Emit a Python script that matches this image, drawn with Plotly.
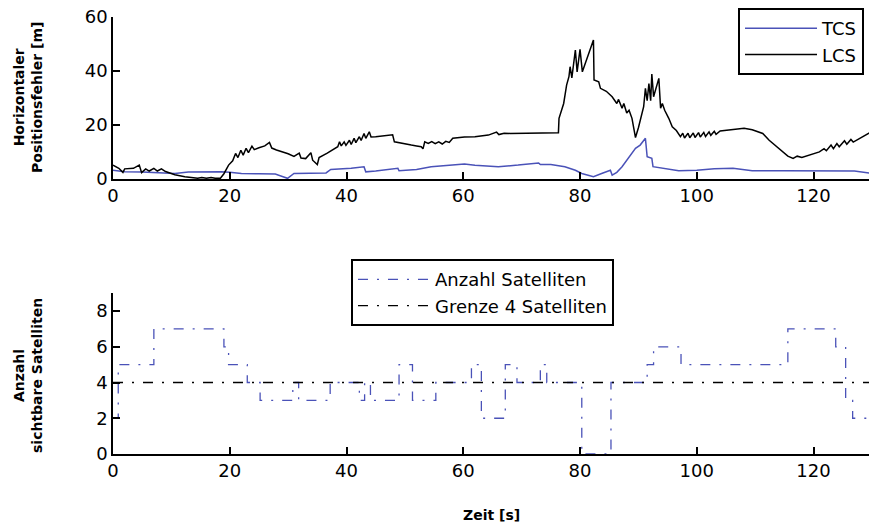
import plotly.graph_objects as go

# ---------- data ----------
lcs_t = [0, 1.0, 1.7, 2.0, 3.5, 4.5, 4.9, 5.6, 6.2, 7.0, 7.6, 8.3, 9.0, 10.6, 12.3, 13.5, 14.5, 15.2,
         16.0, 16.8, 17.5, 18.4, 19.0, 19.8, 20.5, 21.0, 21.4, 21.9, 22.3, 22.8, 23.2, 23.8, 24.2, 25.0,
         26.0, 26.8, 27.2, 28.0, 30.0, 31.0, 31.9, 32.2, 33.0, 33.9, 34.2, 35.0, 35.3, 36.7, 37.8, 38.5,
         38.8, 39.1, 39.6, 39.9, 40.5, 40.8, 41.3, 41.6, 42.2, 42.5, 43.0, 43.3, 43.9, 44.2, 45.0, 46.0,
         47.0, 47.9, 48.2, 49.0, 51.1, 52.0, 52.8, 53.1, 53.4, 54.0, 54.6, 55.2, 55.8, 56.4, 57.0, 57.6,
         58.2, 60.2, 62.0, 64.3, 65.7, 66.1, 67.0, 68.0, 70.0, 72.0, 74.0, 76.3, 76.4, 77.2, 77.7, 78.1,
         78.3, 78.6, 79.2, 79.5, 80.0, 80.4, 82.3, 82.4, 83.2, 83.5, 84.5, 85.5, 86.3, 86.6, 87.2, 87.5,
         88.0, 88.4, 88.9, 89.5, 90.0, 90.9, 91.2, 91.5, 91.8, 92.1, 92.3, 92.6, 93.5, 93.8, 94.1, 94.5,
         95.2, 95.8, 96.5, 97.2, 97.6, 97.9, 98.5, 98.8, 99.4, 99.7, 100.3, 100.6, 101.2, 101.5, 102.1,
         102.4, 103.0, 103.3, 104.0, 105.5, 108.1, 109.5, 111.3, 112.4, 114.1, 115.6, 116.5, 117.2, 118.0,
         119.3, 121.0, 121.8, 122.2, 123.0, 123.4, 124.0, 124.4, 125.3, 125.7, 126.4, 126.8, 129.9]
lcs_v = [5.2, 4.0, 2.5, 3.8, 4.0, 5.2, 2.4, 3.8, 3.0, 4.0, 3.0, 3.8, 2.8, 1.6, 0.9, 0.6, 0.3, 0.6,
         0.3, 0.6, 0.3, 0.3, 2.0, 5.2, 6.8, 9.5, 8.0, 10.7, 8.9, 11.4, 9.8, 12.2, 10.9, 11.6,
         12.3, 13.6, 11.5, 10.8, 9.4, 8.4, 9.6, 7.8, 7.6, 9.8, 7.0, 5.4, 8.0, 9.6, 11.0, 12.0,
         13.8, 12.3, 13.8, 12.5, 14.4, 12.8, 15.1, 13.5, 15.7, 14.3, 16.9, 15.1, 17.5, 15.6, 15.7, 16.0,
         16.3, 16.4, 13.8, 13.4, 12.6, 12.3, 12.0, 11.2, 13.8, 13.2, 13.9, 13.1, 13.8, 13.0, 14.0, 13.6,
         15.1, 15.6, 15.7, 16.3, 17.4, 16.5, 17.0, 16.9, 17.0, 17.0, 17.1, 17.2, 22.5, 28.0, 34.8, 37.9,
         41.6, 37.5, 47.8, 39.7, 48.0, 39.7, 51.5, 36.7, 36.0, 33.6, 32.5, 30.5, 28.0, 29.5, 26.2, 28.0,
         24.5, 25.5, 22.5, 15.4, 19.0, 26.8, 33.6, 29.0, 35.4, 29.0, 38.9, 30.5, 37.3, 26.2, 28.0, 25.5,
         22.5, 19.4, 18.0, 15.7, 17.0, 15.2, 17.0, 15.3, 17.1, 15.4, 17.2, 15.6, 17.3, 15.8, 17.5,
         16.2, 17.7, 16.6, 17.8, 18.1, 18.8, 18.3, 16.9, 14.4, 11.4, 8.5, 7.7, 8.5, 8.0,
         8.9, 10.1, 11.3, 10.5, 12.6, 11.3, 13.2, 12.0, 14.2, 12.9, 14.7, 13.7, 17.5]

tcs_t = [0, 2, 5, 8, 10.6, 12.9, 15, 18.5, 20, 22, 25, 27.8, 29.0, 29.9, 31.0, 33.5, 35, 36.5, 37.3,
         40.8, 43.0, 43.3, 45, 48.8, 49.0, 52, 54.5, 57.4, 60.2, 62, 66, 69.4, 72.9, 73.2, 75, 77.4,
         79.2, 80.3, 82.3, 83.7, 85.2, 85.5, 86.3, 87.2, 87.6, 88.3, 88.6, 89.5, 90.3, 91.2, 91.5,
         92.3, 92.5, 94.0, 96.9, 100, 103, 106.2, 109.5, 115, 120, 124, 127, 129.9]
tcs_v = [3.3, 2.7, 2.6, 2.4, 2.1, 2.6, 2.7, 2.7, 2.5, 2.1, 2.0, 1.9, 1.0, 0.3, 2.1, 2.1, 2.1, 2.3, 3.6,
         4.0, 4.6, 2.7, 3.0, 4.0, 3.1, 3.6, 4.6, 5.2, 5.6, 5.1, 4.6, 5.2, 6.0, 5.4, 5.4, 4.6,
         3.3, 2.1, 0.9, 2.1, 3.3, 1.5, 2.5, 4.6, 5.8, 7.7, 8.5, 11.4, 12.6, 15.1, 8.3,
         7.7, 4.6, 4.0, 3.1, 3.3, 3.8, 4.0, 3.1, 3.1, 3.1, 3.1, 3.0, 2.1]

sat_t = [0, 0.9, 7.0, 19.0, 19.8, 23.0, 25.2, 30.8, 31.8, 37.2, 42.2, 43.1, 44.1, 49.0, 51.3, 55.3,
         61.4, 63.1, 67.2, 69.2, 73.2, 74.3, 80.3, 85.3, 91.5, 92.6, 97.3, 115.6, 123.8, 125.5, 126.7, 130]
sat_n = [2, 5, 7, 6, 5, 4, 3, 4, 3, 4, 3, 4, 3, 5, 3, 4,
         5, 2, 5, 4, 5, 4, 0, 4, 5, 6, 5, 7, 6, 3, 2, 2]

limit_t = [0, 130]
limit_n = [4, 4]

top_yticks = [0, 20, 40, 60]
bot_yticks = [0, 2, 4, 6, 8]
xticks = [0, 20, 40, 60, 80, 100, 120]

FONT = "DejaVu Sans"
BLUE = "#4a52b8"
DASH = "10px,9px,2px,9px"

fig = go.Figure()
fig.add_trace(go.Scatter(x=tcs_t, y=tcs_v, mode="lines", name="TCS",
                         line=dict(color=BLUE, width=1.5), xaxis="x", yaxis="y", legend="legend"))
fig.add_trace(go.Scatter(x=lcs_t, y=lcs_v, mode="lines", name="LCS",
                         line=dict(color="black", width=1.5), xaxis="x", yaxis="y", legend="legend"))
fig.add_trace(go.Scatter(x=sat_t, y=sat_n, mode="lines", name="Anzahl Satelliten",
                         line=dict(color=BLUE, width=1.3, shape="hv", dash=DASH),
                         xaxis="x2", yaxis="y2", legend="legend2"))
fig.add_trace(go.Scatter(x=limit_t, y=limit_n, mode="lines", name="Grenze 4 Satelliten",
                         line=dict(color="black", width=1.3, dash=DASH),
                         xaxis="x2", yaxis="y2", legend="legend2"))

axis_common = dict(showline=True, linecolor="black", linewidth=1.5, ticks="inside", ticklen=7,
                   tickcolor="black", tickwidth=1.5, showgrid=False, zeroline=False,
                   ticklabeloverflow="allow",
                   tickfont=dict(family=FONT, size=18, color="black"))

fig.update_layout(
    width=869, height=527,
    margin=dict(l=113, r=0, t=17, b=73),
    paper_bgcolor="white", plot_bgcolor="white",
    font=dict(family=FONT, color="black"),
    xaxis=dict(domain=[0, 1], range=[0, 129.5], tickvals=xticks, anchor="y", **axis_common),
    yaxis=dict(domain=[0.629, 1.0], range=[0, 60], tickvals=top_yticks, anchor="x", **axis_common),
    xaxis2=dict(domain=[0, 1], range=[0, 129.5], tickvals=xticks, anchor="y2", **axis_common),
    yaxis2=dict(domain=[0, 0.368], range=[0, 9], tickvals=bot_yticks, anchor="x2", **axis_common),
    legend=dict(x=0.9934, y=1.0206, xanchor="right", yanchor="top", bgcolor="white",
                bordercolor="black", borderwidth=2, font=dict(family=FONT, size=18),
                tracegroupgap=0, itemwidth=72),
    legend2=dict(x=0.3148, y=0.446, xanchor="left", yanchor="top", bgcolor="white",
                 bordercolor="black", borderwidth=2, font=dict(family=FONT, size=18),
                 itemwidth=72),
    showlegend=True,
)

fig.add_annotation(text="<b>Horizontaler<br>Positionsfehler [m]</b>", textangle=-90,
                   xref="paper", yref="paper", x=-(113 - 28) / 756, y=(454 - 98) / 437,
                   showarrow=False, font=dict(family=FONT, size=14), xanchor="center", yanchor="middle")
fig.add_annotation(text="<b>Anzahl<br>sichtbare Satelliten</b>", textangle=-90,
                   xref="paper", yref="paper", x=-(113 - 28) / 756, y=(454 - 376) / 437,
                   showarrow=False, font=dict(family=FONT, size=14), xanchor="center", yanchor="middle")
fig.add_annotation(text="<b>Zeit [s]</b>", xref="paper", yref="paper", x=0.5, y=-(515 - 454) / 437,
                   showarrow=False, font=dict(family=FONT, size=14), xanchor="center", yanchor="middle")

# remove the browser's default 8px page margin so the figure fills the window exactly
fig.write_html("out.html", config={"displayModeBar": False},
               post_script="document.body.style.margin='0';document.body.style.overflow='hidden';")
